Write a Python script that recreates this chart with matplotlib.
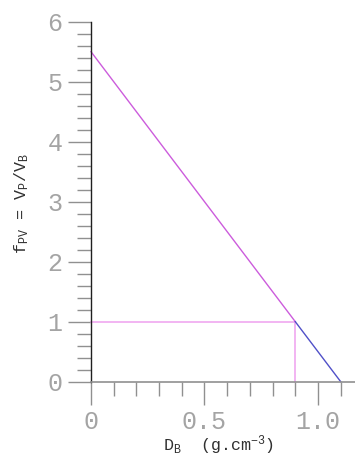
import matplotlib
matplotlib.use('Agg')
import matplotlib.pyplot as plt
from matplotlib.ticker import MultipleLocator, FixedLocator
import numpy as np

# f_PV = V_P / V_B against bulk density D_B
D_B_PINK = [0.0, 0.9]
F_PV_PINK = [5.5, 1.0]
D_B_BLUE = [0.9, 1.1]
F_PV_BLUE = [1.0, 0.0]
# reading guide at f_PV = 1
GUIDE_X = [0.0, 0.9, 0.9]
GUIDE_Y = [1.0, 1.0, 0.0]

X_TICKS = [0, 0.5, 1.0]
X_TICK_LABELS = ['0', '0.5', '1.0']
Y_TICKS = [0, 1, 2, 3, 4, 5, 6]

LINE_PINK = '#cc5cdc'
LINE_BLUE = '#5050c8'
GUIDE_COL = '#f0a8f0'
TICK_COL = '#909090'
LABEL_COL = '#a4a4a4'

plt.rcParams['mathtext.fontset'] = 'custom'
plt.rcParams['mathtext.rm'] = 'Liberation Mono'
plt.rcParams['mathtext.it'] = 'Liberation Mono'

fig = plt.figure(figsize=(3.55, 4.61), dpi=100)
ax = fig.add_axes([91 / 355, 79.3 / 461, 1 - 91 / 355, 360 / 461])

ax.plot(GUIDE_X, GUIDE_Y, color=GUIDE_COL, lw=1.2, clip_on=False)
ax.plot(D_B_PINK, F_PV_PINK, color=LINE_PINK, lw=1.0, clip_on=False)
ax.plot(D_B_BLUE, F_PV_BLUE, color=LINE_BLUE, lw=1.0, clip_on=False)

ax.set_xlim(0, 1.163)
ax.set_ylim(0, 6)

for s in ('top', 'right'):
    ax.spines[s].set_visible(False)
ax.spines['left'].set_color('#202020')
ax.spines['left'].set_linewidth(1.0)
ax.spines['bottom'].set_color(TICK_COL)
ax.spines['bottom'].set_linewidth(1.2)

ax.xaxis.set_major_locator(FixedLocator(X_TICKS))
ax.set_xticklabels(X_TICK_LABELS)
ax.xaxis.set_minor_locator(MultipleLocator(0.1))
ax.yaxis.set_major_locator(FixedLocator(Y_TICKS))
ax.yaxis.set_minor_locator(MultipleLocator(0.2))

ax.tick_params(which='major', direction='out', length=16.5, width=1.0,
               color=TICK_COL, labelcolor=LABEL_COL, labelsize=18, pad=4)
ax.tick_params(which='minor', direction='out', length=10, width=1.0,
               color=TICK_COL)
for lab in ax.get_xticklabels() + ax.get_yticklabels():
    lab.set_fontfamily('Liberation Mono')

# x tick at 0 continues the dark y axis line
xt0 = ax.xaxis.get_major_ticks()[0]
xt0.tick1line.set_color('#202020')

mono = {'family': 'Liberation Mono', 'size': 12, 'color': '#303030'}
fig.text(219 / 355, 1 - 451 / 461, r'D$_\mathregular{B}$  (g.cm$^\mathregular{-3}$)',
         ha='center', va='baseline', fontdict=mono)
fig.text(22 / 355, 1 - 204 / 461,
         r'f$_\mathregular{PV}$ = V$_\mathregular{P}$/V$_\mathregular{B}$',
         ha='center', va='center', rotation=90, fontdict=mono)

fig.savefig('out.png', dpi=100)
